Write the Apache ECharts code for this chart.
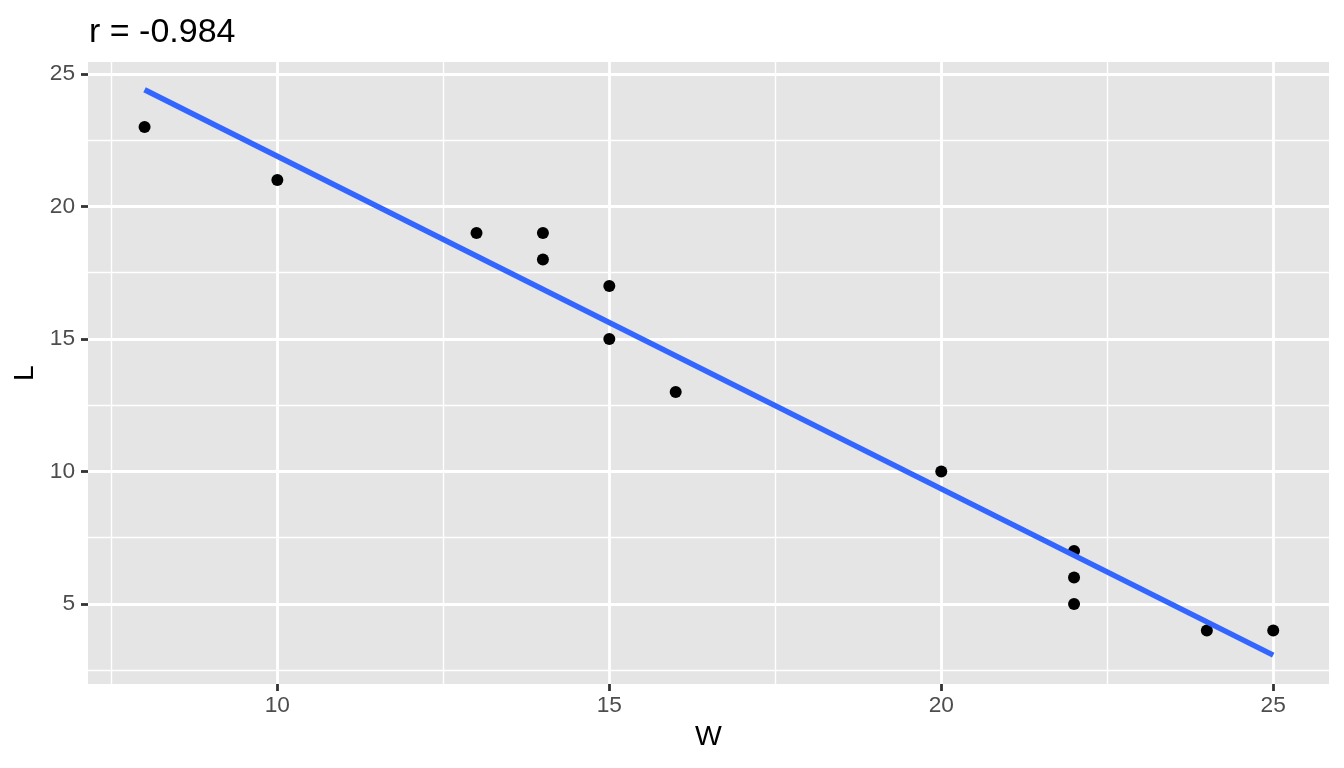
<!DOCTYPE html>
<html>
<head>
<meta charset="utf-8">
<script src="https://cdn.jsdelivr.net/npm/echarts@6/dist/echarts.min.js"></script>
<style>
  html, body { margin: 0; padding: 0; background: #fff; }
  #chart { width: 1344px; height: 768px; }
</style>
</head>
<body>
<div id="chart"></div>
<script>
// Data
const W = [8, 10, 13, 14, 14, 15, 15, 16, 20, 22, 22, 22, 24, 25];
const L = [23, 21, 19, 19, 18, 17, 15, 13, 10, 7, 6, 5, 4, 4];
// Fitted line end points
const fitW = [8, 25];
const fitL = [24.4, 3.07];
const titleText = 'r = -0.984';
const xMajorTicks = [10, 15, 20, 25];
const xMinorTicks = [7.5, 12.5, 17.5, 22.5];
const yMajorTicks = [5, 10, 15, 20, 25];
const yMinorTicks = [2.5, 7.5, 12.5, 17.5, 22.5];
const xRange = [7.148, 25.84];
const yRange = [1.98, 25.45];

const FONT = "'Liberation Sans', Arial, Helvetica, sans-serif";
const chart = echarts.init(document.getElementById('chart'), null, { renderer: 'canvas' });

const majorLine = { show: true, lineStyle: { color: '#FFFFFF', width: 2.8 } };
const minorLine = { show: true, lineStyle: { color: '#FFFFFF', width: 1.4 } };

chart.setOption({
  animation: false,
  backgroundColor: '#FFFFFF',
  title: {
    text: titleText,
    left: 84,
    top: 11,
    textStyle: { fontFamily: FONT, fontSize: 34, fontWeight: 'normal', color: '#000000' }
  },
  grid: {
    left: 88, right: 15, top: 62, bottom: 84,
    show: true, backgroundColor: '#E5E5E5', borderWidth: 0,
    containLabel: false
  },
  xAxis: [
    {
      type: 'value', min: xRange[0], max: xRange[1], position: 'bottom',
      name: 'W', nameLocation: 'middle', nameGap: 39,
      nameTextStyle: { fontFamily: FONT, fontSize: 28.4, color: '#000000' },
      axisLine: { show: false },
      axisTick: { show: true, length: 7, customValues: xMajorTicks, lineStyle: { color: '#333333', width: 2.8 } },
      axisLabel: { show: true, customValues: xMajorTicks, margin: 10, fontFamily: FONT, fontSize: 22.7, color: '#4D4D4D' },
      splitLine: majorLine
    },
    {
      type: 'value', min: xRange[0], max: xRange[1], position: 'top',
      axisLine: { show: false },
      axisTick: { show: false, customValues: xMinorTicks },
      axisLabel: { show: false, customValues: xMinorTicks },
      splitLine: minorLine
    }
  ],
  yAxis: [
    {
      type: 'value', min: yRange[0], max: yRange[1], position: 'left',
      name: 'L', nameLocation: 'middle', nameGap: 46,
      nameTextStyle: { fontFamily: FONT, fontSize: 28.4, color: '#000000' },
      axisLine: { show: false },
      axisTick: { show: true, length: 7, customValues: yMajorTicks, lineStyle: { color: '#333333', width: 2.8 } },
      axisLabel: { show: true, customValues: yMajorTicks, margin: 13, fontFamily: FONT, fontSize: 22.7, color: '#4D4D4D' },
      splitLine: majorLine
    },
    {
      type: 'value', min: yRange[0], max: yRange[1], position: 'right',
      axisLine: { show: false },
      axisTick: { show: false, customValues: yMinorTicks },
      axisLabel: { show: false, customValues: yMinorTicks },
      splitLine: minorLine
    }
  ],
  series: [
    {
      type: 'scatter',
      xAxisIndex: 0, yAxisIndex: 0,
      data: W.map((w, i) => [w, L[i]]),
      symbol: 'circle', symbolSize: 12,
      itemStyle: { color: '#000000', opacity: 1 },
      z: 3
    },
    {
      type: 'line',
      xAxisIndex: 0, yAxisIndex: 0,
      data: fitW.map((w, i) => [w, fitL[i]]),
      showSymbol: false, symbol: 'none',
      lineStyle: { color: '#3366FF', width: 5.5 },
      z: 4
    }
  ]
});
</script>
</body>
</html>
